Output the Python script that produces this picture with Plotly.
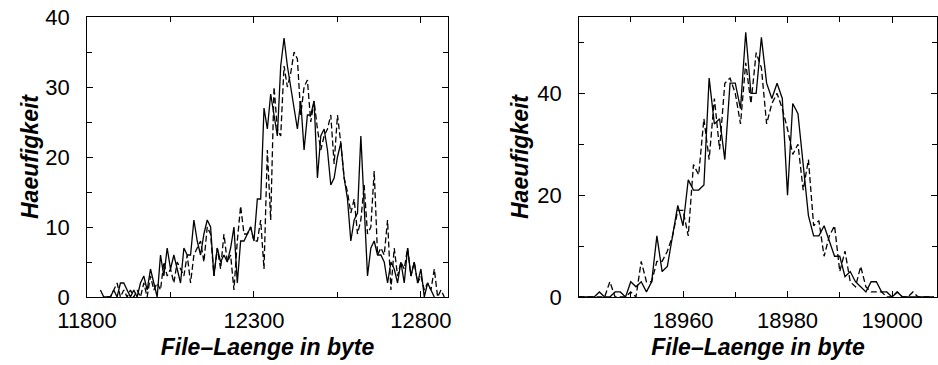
import plotly.graph_objects as go

# ---------- data: left panel (bins of 10 byte) ----------
left_solid_x0 = 11840
left_solid = [1, 0, 0, 0, 1, 0, 2, 2, 1, 0,
              1, 0, 2, 3, 1, 4, 2, 0, 6, 3,
              7, 4, 6, 4, 2, 7, 6, 6, 11, 8,
              6, 9, 11, 10, 3, 7, 5, 6, 5, 7,
              10, 2, 8, 8, 9, 10, 8, 14, 14, 27,
              24, 29, 26, 23, 33, 37, 33, 30, 27, 24,
              28, 21, 26, 26, 28, 17, 23, 24, 21, 16,
              17, 20, 22, 17, 14, 8, 11, 12, 23, 14,
              3, 7, 8, 6, 6, 5, 2, 5, 4, 2,
              5, 2, 7, 3, 5, 2, 4, 0, 2, 1, 0]
left_dashed_x0 = 11860
left_dashed = [0, 0, 1, 2, 0, 1, 0, 1, 0, 1,
               0, 2, 0, 3, 1, 2, 1, 5, 3, 4,
               2, 5, 4, 3, 6, 2, 6, 7, 8, 5,
               10, 9, 3, 7, 4, 9, 5, 6, 1, 8,
               13, 9, 9, 10, 8, 8, 11, 4, 21, 11,
               30, 24, 23, 33, 30, 32, 35, 34, 26, 30,
               31, 25, 28, 24, 21, 23, 24, 26, 19, 26,
               22, 17, 15, 12, 14, 9, 11, 16, 9, 10,
               18, 6, 7, 6, 11, 1, 7, 3, 5, 4,
               7, 3, 5, 2, 3, 1, 2, 1, 4, 0, 1, 0]
left_step = 10

# ---------- data: right panel (bins of 1 byte) ----------
right_x0 = 18940
right_solid = [0, 0, 0, 0, 1, 0, 0, 1, 1, 0,
               3, 2, 3, 1, 3, 12, 5, 6, 12, 18,
               14, 23, 21, 21, 22, 43, 34, 35, 27, 42,
               42, 37, 52, 40, 40, 51, 42, 39, 42, 39,
               20, 38, 36, 26, 16, 12, 12, 14, 11, 8,
               8, 4, 5, 3, 2, 1, 3, 3, 1, 1,
               0, 1, 0, 0, 0, 0, 0, 0, 0]
right_dashed = [0, 0, 0, 0, 0, 0, 3, 0, 0, 0,
                1, 0, 7, 3, 3, 7, 7, 9, 12, 17,
                17, 12, 26, 24, 35, 27, 39, 29, 42, 43,
                40, 34, 46, 38, 48, 45, 34, 38, 40, 37,
                33, 28, 30, 21, 27, 14, 15, 8, 12, 14,
                5, 9, 3, 2, 6, 2, 1, 1, 1, 0,
                0, 1, 0, 0, 1, 0, 0, 0, 0]
right_step = 1

left_xticks = [11800, 12300, 12800]
left_xminor = [12050, 12550]
left_yticks = [0, 10, 20, 30, 40]
left_yminor = [5, 15, 25, 35]
right_xticks = [18960, 18980, 19000]
right_xminor = [18950, 18970, 18990]
right_yticks = [0, 20, 40]
right_yminor = [10, 30, 50]

x_title = "File\u2013Laenge in byte"
y_title = "Haeufigkeit"


def xs(x0, step, n):
    return [x0 + i * step for i in range(n)]


FONT = "Liberation Sans, Arial, Helvetica, sans-serif"
LW = 1.3
DASH = "6px,3px"

fig = go.Figure()
fig.add_trace(go.Scatter(x=xs(left_solid_x0, left_step, len(left_solid)), y=left_solid,
                         mode="lines", line=dict(color="black", width=LW),
                         xaxis="x", yaxis="y", showlegend=False))
fig.add_trace(go.Scatter(x=xs(left_dashed_x0, left_step, len(left_dashed)), y=left_dashed,
                         mode="lines", line=dict(color="black", width=LW, dash=DASH),
                         xaxis="x", yaxis="y", showlegend=False))
fig.add_trace(go.Scatter(x=xs(right_x0, right_step, len(right_solid)), y=right_solid,
                         mode="lines", line=dict(color="black", width=LW),
                         xaxis="x2", yaxis="y2", showlegend=False))
fig.add_trace(go.Scatter(x=xs(right_x0, right_step, len(right_dashed)), y=right_dashed,
                         mode="lines", line=dict(color="black", width=LW, dash=DASH),
                         xaxis="x2", yaxis="y2", showlegend=False))

tickfont = dict(family=FONT, size=22, color="black")
titlefont = dict(family=FONT, size=23, color="black", weight="bold", style="italic")

common = dict(showline=True, linecolor="black", linewidth=1, mirror="ticks",
              ticks="inside", ticklen=6, tickcolor="black", tickwidth=1,
              showgrid=False, zeroline=False, tickfont=tickfont, automargin=False)

fig.update_layout(
    width=938, height=365,
    margin=dict(l=0, r=0, t=17, b=68),
    paper_bgcolor="white", plot_bgcolor="white",
    xaxis=dict(domain=[0.0928, 0.4776], range=[11800, 12881], anchor="y",
               tickvals=left_xticks, ticktext=[str(v) for v in left_xticks],
               minor=dict(tickvals=left_xminor, ticks="inside", ticklen=5, tickcolor="black"),
               ticklabelstandoff=4,
               title=dict(text=x_title, font=titlefont, standoff=6), **common),
    yaxis=dict(domain=[0, 1], range=[0, 40], anchor="x",
               tickvals=left_yticks, ticktext=[str(v) for v in left_yticks],
               minor=dict(tickvals=left_yminor, ticks="inside", ticklen=5, tickcolor="black"),
               ticklabelstandoff=12,
               title=dict(text=y_title, font=titlefont, standoff=0), **common),
    xaxis2=dict(domain=[0.6173, 0.9989], range=[18940.1, 19008.6], anchor="y2",
                tickvals=right_xticks, ticktext=[str(v) for v in right_xticks],
                minor=dict(tickvals=right_xminor, ticks="inside", ticklen=5, tickcolor="black"),
                ticklabelstandoff=4,
                title=dict(text=x_title, font=titlefont, standoff=6), **common),
    yaxis2=dict(domain=[0, 1], range=[0, 55], anchor="x2",
                tickvals=right_yticks, ticktext=[str(v) for v in right_yticks],
                minor=dict(tickvals=right_yminor, ticks="inside", ticklen=5, tickcolor="black"),
                ticklabelstandoff=12,
                title=dict(text=y_title, font=titlefont, standoff=2), **common),
)

fig.write_html("out.html")
